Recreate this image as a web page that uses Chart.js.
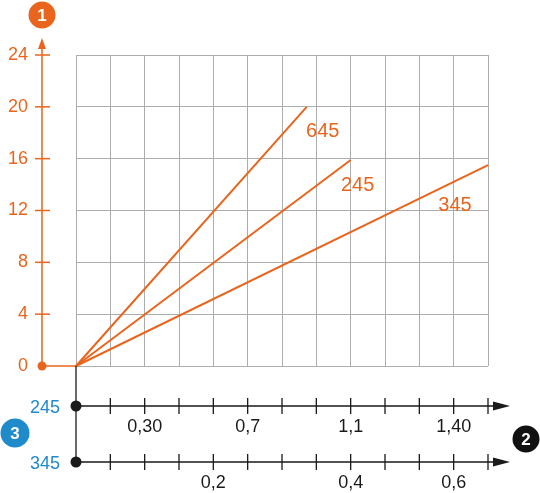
<!DOCTYPE html>
<html>
<head>
<meta charset="utf-8">
<script src="https://cdn.jsdelivr.net/npm/chart.js@4.4.1/dist/chart.umd.min.js"></script>
<style>
  body { margin: 0; background: #fff; }
  #wrap { width: 540px; height: 493px; }
</style>
</head>
<body>
<div id="wrap"><canvas id="chart" width="540" height="493"></canvas></div>
<script>
// values (x in grid columns, y on the left scale)
const seriesNames = ["645", "245", "345"];
const seriesEndX = [6.72, 8.0, 12.0];
const seriesEndY = [20, 15.9, 15.5];
const yTicks = [0, 4, 8, 12, 16, 20, 24];
const xColumns = 12;
const row245Pos = [2, 5, 8, 11];
const row245Labels = ["0,30", "0,7", "1,1", "1,40"];
const row345Pos = [4, 8, 11];
const row345Labels = ["0,2", "0,4", "0,6"];

const ORANGE = "#e9651d";
const BLUE = "#1f8bcb";
const FONT = '"Liberation Sans", Arial, sans-serif';

function dot(ctx, x, y, r, color) {
    ctx.beginPath();
    ctx.arc(x, y, r, 0, Math.PI * 2);
    ctx.fillStyle = color;
    ctx.fill();
}

function badge(ctx, x, y, r, color, text) {
    dot(ctx, x, y, r, color);
    ctx.fillStyle = "#fff";
    ctx.font = "bold 17px " + FONT;
    ctx.textAlign = "center";
    ctx.textBaseline = "middle";
    ctx.fillText(text, x, y + 1);
}

// everything around the plot: orange value axis, the two black scales below
const decorations = {
    id: "decorations",
    afterDraw(chart) {
        const ctx = chart.ctx;
        const xs = chart.scales.x, ys = chart.scales.y;
        const x0 = xs.getPixelForValue(0), y0 = ys.getPixelForValue(0);
        const axisX = x0 - 34;
        ctx.save();

        // orange y axis
        ctx.strokeStyle = ORANGE;
        ctx.lineWidth = 1.5;
        ctx.beginPath();
        ctx.moveTo(axisX, y0);
        ctx.lineTo(axisX, ys.getPixelForValue(24) - 8);
        ctx.moveTo(axisX, y0);
        ctx.lineTo(x0, y0);
        ctx.stroke();
        const tipY = ys.getPixelForValue(24) - 17;
        ctx.beginPath();
        ctx.moveTo(axisX, tipY);
        ctx.lineTo(axisX - 4, tipY + 11);
        ctx.lineTo(axisX + 4, tipY + 11);
        ctx.closePath();
        ctx.fillStyle = ORANGE;
        ctx.fill();

        ctx.font = "18px " + FONT;
        ctx.textAlign = "right";
        ctx.textBaseline = "middle";
        yTicks.forEach(v => {
            const py = ys.getPixelForValue(v);
            if (v > 0) {
                ctx.beginPath();
                ctx.moveTo(axisX - 7, py);
                ctx.lineTo(axisX + 8, py);
                ctx.stroke();
            }
            ctx.fillStyle = ORANGE;
            ctx.fillText(String(v), axisX - 14, py);
        });
        dot(ctx, axisX, y0, 4.5, ORANGE);
        badge(ctx, axisX, 15, 13.5, ORANGE, "1");

        // line labels
        const offsets = [[16, 25], [7, 26], [-33, 40]];
        ctx.font = "20px " + FONT;
        ctx.textAlign = "center";
        ctx.fillStyle = ORANGE;
        seriesNames.forEach((name, i) => {
            const px = xs.getPixelForValue(seriesEndX[i]) + offsets[i][0];
            const py = ys.getPixelForValue(seriesEndY[i]) + offsets[i][1];
            ctx.fillText(name, px, py);
        });

        // black scales below the plot
        const rows = [
            { y: y0 + 40, name: "245", pos: row245Pos, labels: row245Labels },
            { y: y0 + 96, name: "345", pos: row345Pos, labels: row345Labels }
        ];
        const xEnd = xs.getPixelForValue(xColumns);
        ctx.strokeStyle = "#1a1a1a";
        ctx.fillStyle = "#1a1a1a";
        ctx.lineWidth = 1.3;
        ctx.beginPath();
        ctx.moveTo(x0, y0);
        ctx.lineTo(x0, rows[1].y);
        ctx.stroke();
        rows.forEach(r => {
            ctx.strokeStyle = "#1a1a1a";
            ctx.fillStyle = "#1a1a1a";
            ctx.beginPath();
            ctx.moveTo(x0, r.y);
            ctx.lineTo(xEnd + 8, r.y);
            for (let c = 1; c <= xColumns; c++) {
                const px = xs.getPixelForValue(c);
                ctx.moveTo(px, r.y - 8);
                ctx.lineTo(px, r.y + 8);
            }
            ctx.stroke();
            ctx.beginPath();
            ctx.moveTo(xEnd + 22, r.y);
            ctx.lineTo(xEnd + 5, r.y - 4.5);
            ctx.lineTo(xEnd + 5, r.y + 4.5);
            ctx.closePath();
            ctx.fill();
            dot(ctx, x0, r.y, 5.5, "#1a1a1a");

            ctx.font = "18px " + FONT;
            ctx.textAlign = "center";
            ctx.textBaseline = "middle";
            r.pos.forEach((c, i) => {
                ctx.fillText(r.labels[i], xs.getPixelForValue(c), r.y + 21);
            });
            ctx.fillStyle = BLUE;
            ctx.textAlign = "right";
            ctx.fillText(r.name, x0 - 16, r.y + 2);
        });
        badge(ctx, 15, (rows[0].y + rows[1].y) / 2 - 1, 14.5, BLUE, "3");
        badge(ctx, 526, (rows[0].y + rows[1].y) / 2 + 5, 13.5, "#111", "2");

        ctx.restore();
    }
};

new Chart(document.getElementById("chart").getContext("2d"), {
    type: "line",
    data: {
        datasets: seriesNames.map((name, i) => ({
            label: name,
            data: [{ x: 0, y: 0 }, { x: seriesEndX[i], y: seriesEndY[i] }],
            borderColor: ORANGE,
            borderWidth: 2,
            pointRadius: 0,
            clip: false
        }))
    },
    options: {
        responsive: false,
        animation: false,
        layout: { padding: { left: 76, right: 52, top: 55, bottom: 127 } },
        plugins: { legend: { display: false }, tooltip: { enabled: false } },
        scales: {
            x: {
                type: "linear",
                min: 0,
                max: xColumns,
                ticks: { display: false, stepSize: 1 },
                grid: { color: "#adadad", lineWidth: 1, drawTicks: false },
                border: { display: false },
                afterFit: s => { s.height = 0; }
            },
            y: {
                min: 0,
                max: 24,
                ticks: { display: false, stepSize: 4 },
                grid: { color: "#adadad", lineWidth: 1, drawTicks: false },
                border: { display: false },
                afterFit: s => { s.width = 0; }
            }
        }
    },
    plugins: [decorations]
});
</script>
</body>
</html>
